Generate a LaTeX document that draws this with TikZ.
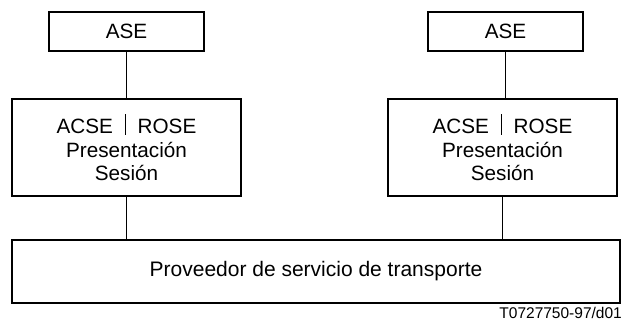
\documentclass[tikz,border=0pt]{standalone}
\usepackage{fontspec}
\setmainfont{Liberation Sans}
\usepackage{tikz}
\tikzstyle{asebox} = [rectangle, draw, line width=1.6pt, minimum width=155pt, minimum height=39pt, text centered, font=\fontsize{20.7}{24}\selectfont]
\tikzstyle{stackbox} = [rectangle, draw, line width=1.6pt, minimum width=229pt, minimum height=97pt, text centered, align=center, font=\fontsize{20.7}{23.5}\selectfont]
\tikzstyle{provbox} = [rectangle, draw, line width=1.6pt, minimum width=608pt, minimum height=63pt, text centered, font=\fontsize{21}{24}\selectfont]
\tikzstyle{link} = [line width=1.6pt]
\newcommand{\sepbar}{\hspace{0.6em}\rule[-1pt]{0.8pt}{21pt}\hspace{0.55em}}
\begin{document}
\begin{tikzpicture}[x=1pt,y=-1pt]
            \useasboundingbox (0,0) rectangle (623,326);
            \node [asebox] at (126.5,31.5) (aseL) {ASE};
            \node [asebox] at (505.5,31.5) (aseR) {ASE};
            \node [stackbox] at (126.5,147.5) (stackL) {ACSE\sepbar ROSE\\Presentación\\Sesión};
            \node [stackbox] at (502.5,147.5) (stackR) {ACSE\sepbar ROSE\\Presentación\\Sesión};
            \node [provbox] at (316,271.5) (prov) {Proveedor de servicio de transporte};
            \node [anchor=base east, inner sep=0pt, font=\fontsize{15.5}{18}\selectfont] at (622,318) (ref) {T0727750-97/d01};
            \draw [link] (aseL.south) -- (aseL.south |- stackL.north);
            \draw [link] (aseR.south) -- (aseR.south |- stackR.north);
            \draw [link] (stackL.south) -- (stackL.south |- prov.north);
            \draw [link] (stackR.south) -- (stackR.south |- prov.north);
\end{tikzpicture}
\end{document}
